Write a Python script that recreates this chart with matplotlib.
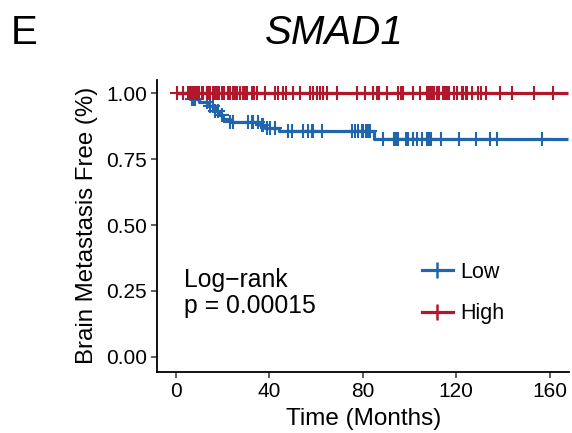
import numpy as np
import matplotlib
matplotlib.use("Agg")
import matplotlib.pyplot as plt
from matplotlib.lines import Line2D

plt.rcParams['font.family'] = ['Liberation Sans', 'DejaVu Sans']

# ---- data ----
low_times = [0, 6, 10, 13.5, 16.5, 18.5, 20, 23, 36, 38, 44, 85]
low_surv = [1.0, 0.978, 0.965, 0.95, 0.932, 0.917, 0.904, 0.892, 0.880, 0.869, 0.855, 0.826]
low_end = 168
low_censor = [6.7, 7.4, 8.1, 13.1, 14.6, 16.0, 16.7, 18.1, 19.6, 23.1, 24.5, 31.0, 32.4,
              33.1, 35.3, 36.7, 37.4, 38.8, 40.3, 42.4, 48.1, 49.5, 54.5, 56.7, 58.1,
              58.8, 62.4, 75.2, 76.7, 78.1, 79.5, 80.2, 81.4, 82.4, 83.1, 88.5, 93.5,
              94.2, 95.2, 98.5, 99.5, 101.6, 103.3, 105.5, 107.6, 108.4, 109.1, 113.5,
              121.3, 128.5, 134.5, 137.3, 156.6]

high_times = [0]
high_surv = [1.0]
high_end = 168
high_censor = [0.3, 3.1, 5.3, 6.0, 6.7, 7.4, 8.1, 9.1, 10.0, 11.0, 11.7, 13.1, 13.8, 14.6,
               15.7, 16.7, 17.7, 18.6, 19.6, 20.6, 22.4, 23.1, 24.3, 25.3, 26.3, 27.4,
               28.6, 29.6, 30.3, 32.4, 33.4, 34.6, 38.1, 42.4, 43.8, 46.0, 47.1, 50.2,
               53.1, 57.4, 58.8, 60.3, 61.7, 63.1, 64.5, 68.8, 77.4, 80.9, 84.2, 86.2,
               87.1, 90.5, 95.2, 96.2, 97.4, 101.6, 104.5, 107.4, 108.1, 108.8, 109.5,
               110.5, 111.6, 112.5, 114.5, 115.3, 116.2, 117.0, 119.1, 120.2, 122.4,
               123.0, 124.2, 124.8, 126.6, 129.5, 130.5, 132.8, 138.8, 143.8, 153.3,
               161.6]

groups = ["Low", "High"]
colors = ["#2166AC", "#B2182B"]
x_ticks = [0, 40, 80, 120, 160]
y_ticks = [0.00, 0.25, 0.50, 0.75, 1.00]
y_tick_labels = ["0.00", "0.25", "0.50", "0.75", "1.00"]
pvalue_text = "p = 0.00015"

W, H = 572, 433
fig = plt.figure(figsize=(W / 100, H / 100), dpi=100)
ax = fig.add_axes([157.3 / W, 1 - 371.7 / H, (569 - 157.3) / W, (371.7 - 80) / H])

def draw(times, surv, end, censor, color):
    t = list(times) + [end]
    s = list(surv) + [surv[-1]]
    ax.step(t, s, where='post', color=color, lw=2.3, solid_capstyle='butt', zorder=2)
    idx = np.searchsorted(np.array(times), np.array(censor), side='right') - 1
    cy = np.array(surv)[idx]
    ax.plot(censor, cy, ls='none', marker='+', ms=10, mew=1.5, color=color, zorder=3)

draw(low_times, low_surv, low_end, low_censor, colors[0])
draw(high_times, high_surv, high_end, high_censor, colors[1])

ax.set_xlim(-8, 168.3)
ax.set_ylim(-0.056, 1.05)
ax.set_xticks(x_ticks)
ax.set_yticks(y_ticks)
ax.set_yticklabels(y_tick_labels)
for s in ['top', 'right']:
    ax.spines[s].set_visible(False)
for s in ['left', 'bottom']:
    ax.spines[s].set_linewidth(1.3)
    ax.spines[s].set_color('black')
ax.tick_params(axis='both', length=4, width=1.1, color='#333333', labelsize=15,
               labelcolor='black', pad=3.5)

fig.text(87 / W, 1 - 225 / H, "Brain Metastasis Free (%)", rotation=90,
         ha='center', va='center', fontsize=17.3)
fig.text(364 / W, 1 - 419 / H, "Time (Months)", ha='center', va='center', fontsize=17.5)

fig.text(334 / W, 1 - 44.3 / H, "SMAD1", ha='center', va='baseline', fontsize=29,
         style='italic')
fig.text(10.5 / W, 1 - 44.3 / H, "E", ha='left', va='baseline', fontsize=29)

ax.text(3.5, 0.266, "Log\u2212rank", ha='left', va='baseline', fontsize=17.8)
ax.text(3.5, 0.165, pvalue_text, ha='left', va='baseline', fontsize=17.8)

handles = [Line2D([], [], color=c, lw=2.3, marker='+', ms=12, mew=1.8) for c in colors]
leg = ax.legend(handles, groups, loc='upper left', frameon=False, fontsize=15.5,
                bbox_to_anchor=(421.7 / W, 1 - 262 / H), bbox_transform=fig.transFigure,
                borderpad=0, borderaxespad=0, handlelength=1.45, handletextpad=0.35,
                labelspacing=0.95)

fig.savefig("out.png", dpi=100)
